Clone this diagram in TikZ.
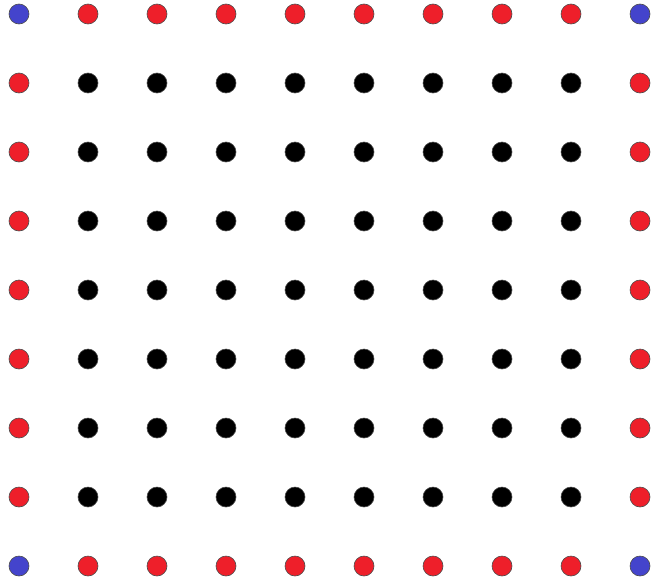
\documentclass[tikz,border=0pt]{standalone}
\definecolor{dotblue}{HTML}{4444CC}
\definecolor{dotred}{HTML}{EE1F2A}
\tikzset{
  dot/.style={circle, minimum size=20pt, inner sep=0pt, draw=black!70, line width=0.6pt},
  inner/.style={dot, fill=black},
  edge/.style={dot, fill=dotred},
  corner/.style={dot, fill=dotblue}
}
\begin{document}
\begin{tikzpicture}[x=1pt,y=-1pt]
\useasboundingbox (0,0) rectangle (653,581);
\foreach \i in {0,...,9} {
  \foreach \j in {0,...,8} {
    \pgfmathtruncatemacro{\onx}{(\i==0 || \i==9) ? 1 : 0}
    \pgfmathtruncatemacro{\ony}{(\j==0 || \j==8) ? 1 : 0}
    \pgfmathtruncatemacro{\kind}{\onx+\ony}
    \ifcase\kind
      \node[inner] (p-\i-\j) at ({19+69*\i},{14+69*\j}) {};
    \or
      \node[edge] (p-\i-\j) at ({19+69*\i},{14+69*\j}) {};
    \else
      \node[corner] (p-\i-\j) at ({19+69*\i},{14+69*\j}) {};
    \fi
  }
}
\end{tikzpicture}
\end{document}
